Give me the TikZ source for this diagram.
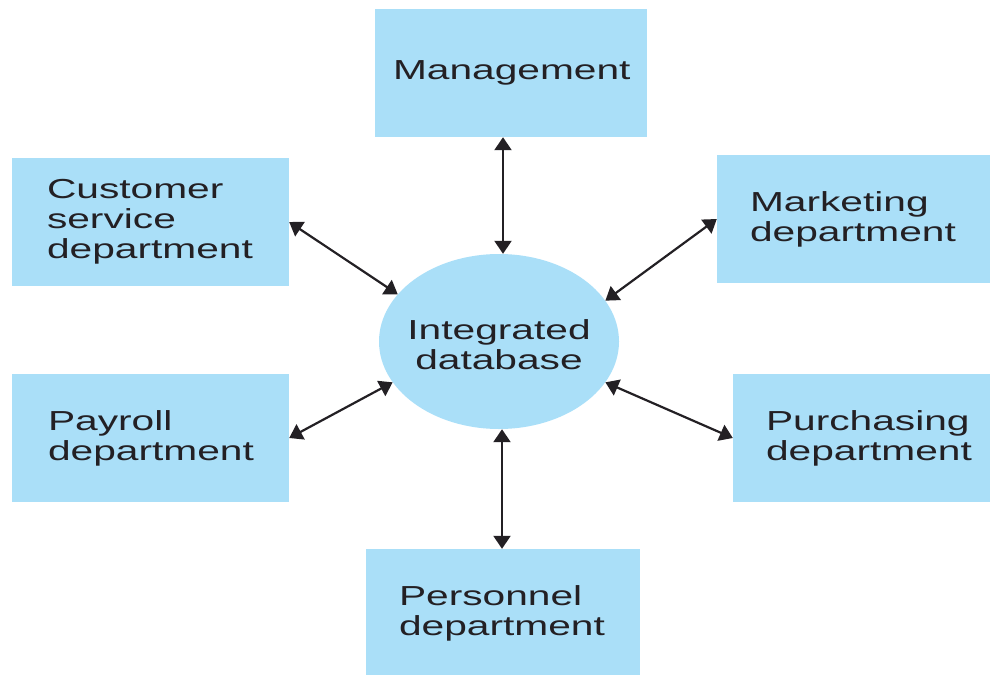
\documentclass[tikz,border=0pt]{standalone}
\usepackage{fontspec}
\setmainfont{Liberation Sans}[FakeStretch=1.48]
\usetikzlibrary{arrows.meta,shapes.geometric}
\definecolor{boxblue}{RGB}{170,223,248}
\definecolor{ink}{RGB}{35,32,36}
\tikzset{
  dept/.style={fill=boxblue, draw=none, inner xsep=0pt, inner ysep=0pt,
    minimum height=128pt, align=left, text=ink,
    font=\fontsize{27.5}{30}\selectfont},
  db/.style={ellipse, fill=boxblue, draw=none, inner xsep=-12pt, inner ysep=0pt,
    minimum width=240pt, minimum height=175pt, align=center, text=ink,
    font=\fontsize{27.5}{30}\selectfont},
  link/.style={draw=ink, line width=2.2pt,
    {Triangle[width=17pt,length=13pt]}-{Triangle[width=17pt,length=13pt]}}
}
\begin{document}
\begin{tikzpicture}[x=1pt,y=-1pt]
\useasboundingbox (0,0) rectangle (992,674);
\node[dept, minimum width=272pt, text width=236pt] (mgmt) at (511,73) {Management};
\node[dept, minimum width=277pt, text width=207pt] (cust) at (150.5,222) {Customer\\service\\department};
\node[dept, minimum width=273pt, text width=207pt] (mkt) at (853.5,219) {Marketing\\department};
\node[dept, minimum width=277pt, text width=205pt] (pay) at (150.5,438) {Payroll\\department};
\node[dept, minimum width=257pt, text width=191pt] (pur) at (861.5,438) {Purchasing\\department};
\node[dept, minimum width=274pt, text width=208pt] (pers) at (503,613) {Personnel\\department};
\node[db] (idb) at (499,341.5) {\raisebox{-7pt}[\height][\depth]{\begin{tabular}{@{}c@{}}Integrated\\database\end{tabular}}};
\draw[link] (idb.north -| 503,0) -- (mgmt.south -| 503,0);
\draw[link] (idb.south -| 502,0) -- (pers.north -| 502,0);
\draw[link] (cust.east) -- (idb.155.7);
\draw[link] (mkt.west) -- (idb.21.9);
\draw[link] (pay.east) -- (idb.201.9);
\draw[link] (pur.west) -- (idb.339.3);
\end{tikzpicture}
\end{document}
